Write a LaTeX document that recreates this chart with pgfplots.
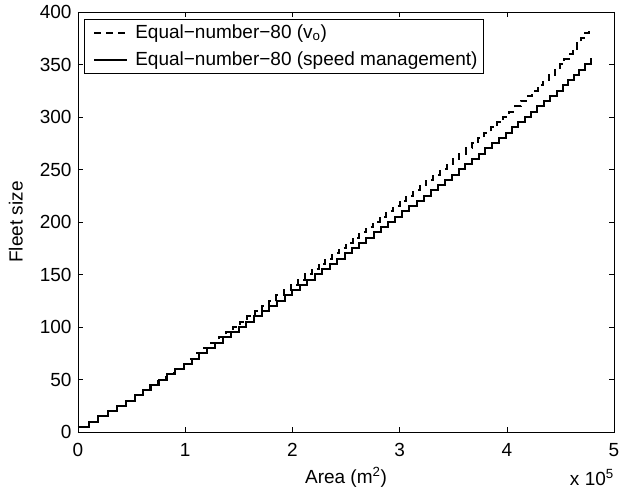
\documentclass[border=0pt]{standalone}
\usepackage{fontspec}
\setmainfont{Liberation Sans}
\usepackage{pgfplots}
\pgfplotsset{compat=1.18}
\usetikzlibrary{calc}

\newcommand{\figfont}{\fontsize{19}{22}\selectfont}

\pgfplotsset{
    legline/.style={legend image code/.code={%
        \draw[#1, sharp plot] (0pt,0pt) -- (33pt,0pt);
        \path[draw=none] (-6pt,0pt) -- (39pt,0pt);}},
}

\begin{document}
\figfont
\begin{tikzpicture}
\begin{axis}[
    scale only axis,
    width=536pt, height=420pt,
    xmin=0, xmax=5, ymin=0, ymax=400,
    xtick={0,1,2,3,4,5},
    ytick={0,50,100,150,200,250,300,350,400},
    tick align=inside, xtick pos=both, ytick pos=both,
    major tick length=5pt,
    tick style={black, line width=0.6pt},
    axis line style={line width=0.8pt},
    /pgf/number format/assume math mode=true,
    tick label style={font=\figfont},
    xticklabel style={yshift=-5pt},
    xlabel={Area (m\textsuperscript{2})},
    ylabel={Fleet size},
    label style={font=\figfont},
    xlabel style={at={(axis description cs:0.5,0)}, anchor=base, yshift=-51pt},
    ylabel style={at={(axis description cs:-0.116,0.5)}, anchor=center},
    legend cell align=left,
    legend style={at={(axis description cs:0,1)}, anchor=north west,
        xshift=6pt, yshift=-7pt, draw=black, line width=0.6pt,
        font=\figfont, inner xsep=4pt, inner ysep=3pt, row sep=7pt},
]
% speed v_o
\addplot[black, line width=2pt, dash pattern=on 7pt off 5pt, const plot,
    legline={dash pattern=on 7pt off 5pt}] coordinates {
 (0,5) (0.103,10) (0.190,15) (0.276,20) (0.362,25) (0.448,30)
 (0.529,35) (0.603,40) (0.676,45) (0.750,50) (0.824,55) (0.897,60) (0.971,65)
 (1.041,70) (1.108,75) (1.176,80) (1.243,85) (1.311,90) (1.378,95) (1.446,100)
 (1.514,105) (1.581,110) (1.649,115) (1.716,120) (1.784,125) (1.851,130) (1.919,135) (1.986,140)
 (2.051,145) (2.115,150) (2.179,155) (2.244,160) (2.308,165) (2.372,170) (2.436,175) (2.500,180)
 (2.563,185) (2.625,190) (2.688,195) (2.750,200) (2.813,205) (2.875,210) (2.938,215) (3.000,220)
 (3.063,225) (3.125,230) (3.188,235) (3.250,240) (3.313,245) (3.375,250) (3.438,255) (3.500,260)
 (3.558,265) (3.616,270) (3.674,275) (3.733,280) (3.791,285) (3.849,290) (3.907,295) (3.965,300)
 (4.021,305) (4.074,310) (4.128,315) (4.181,320) (4.234,325) (4.287,330) (4.340,335) (4.394,340)
 (4.447,345) (4.500,350) (4.538,355) (4.576,360) (4.614,365) (4.652,370) (4.689,375) (4.727,380)
 (4.765,385) (4.775,385)
};
% speed management
\addplot[black, line width=2pt, const plot, legline={solid}] coordinates {
 (0,5) (0.103,10) (0.190,15) (0.276,20) (0.362,25) (0.448,30)
 (0.530,35) (0.606,40) (0.682,45) (0.758,50) (0.833,55) (0.909,60) (0.985,65)
 (1.059,70) (1.132,75) (1.206,80) (1.279,85) (1.353,90) (1.426,95) (1.500,100)
 (1.571,105) (1.643,110) (1.714,115) (1.786,120) (1.857,125) (1.929,130) (2.000,135)
 (2.069,140) (2.139,145) (2.208,150) (2.278,155) (2.347,160) (2.417,165) (2.486,170)
 (2.554,175) (2.622,180) (2.689,185) (2.757,190) (2.824,195) (2.892,200) (2.959,205)
 (3.026,210) (3.092,215) (3.158,220) (3.224,225) (3.289,230) (3.355,235) (3.421,240) (3.487,245)
 (3.550,250) (3.613,255) (3.675,260) (3.738,265) (3.800,270) (3.863,275) (3.925,280) (3.988,285)
 (4.048,290) (4.107,295) (4.167,300) (4.226,305) (4.286,310) (4.345,315) (4.405,320) (4.464,325)
 (4.521,330) (4.573,335) (4.625,340) (4.677,345) (4.729,350) (4.781,355) (4.790,355)
};
\legend{Equal−number−80 (v\textsubscript{o}), Equal−number−80 (speed management)}
\coordinate (sw) at (rel axis cs:0,0);
\coordinate (ne) at (rel axis cs:1,1);
\end{axis}
\node[anchor=base east, font=\figfont, inner sep=0pt] at ($(ne |- sw)+(0pt,-53pt)$) {x 10\textsuperscript{5}};
\pgfresetboundingbox
\path[use as bounding box] ($(sw)+(-78pt,-57pt)$) rectangle ($(ne)+(22pt,12pt)$);
\end{tikzpicture}
\end{document}
